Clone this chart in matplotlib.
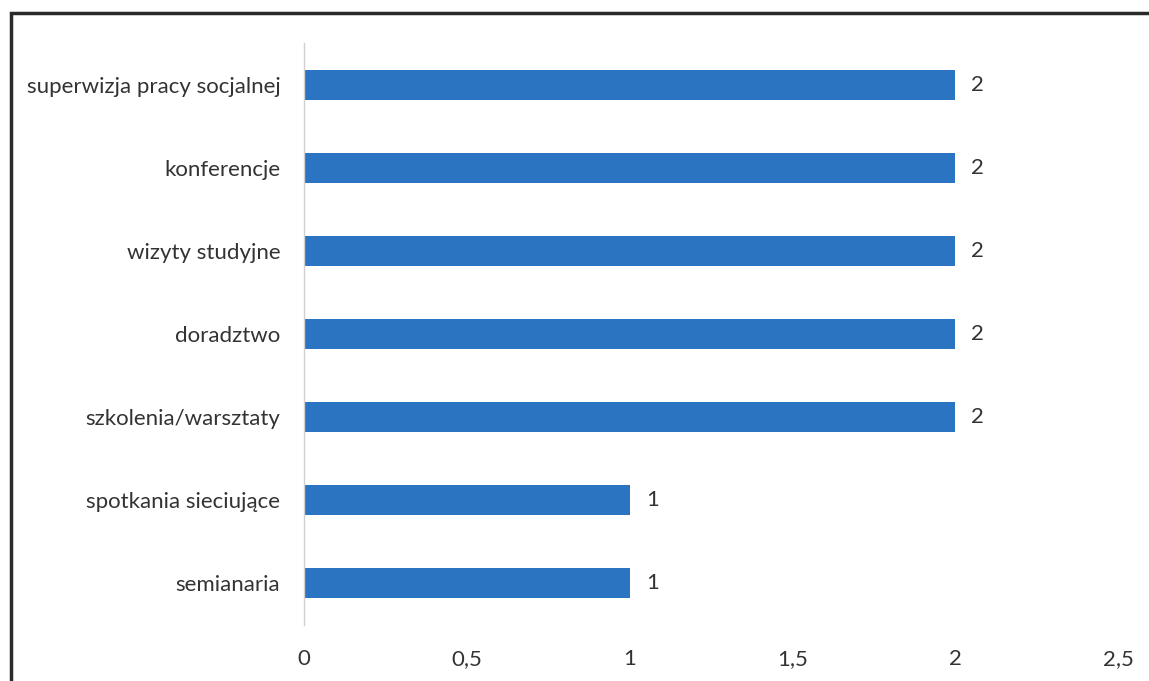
import matplotlib.pyplot as plt
from matplotlib.patches import Rectangle
from matplotlib.ticker import FuncFormatter

categories = ['superwizja pracy socjalnej', 'konferencje', 'wizyty studyjne', 'doradztwo',
              'szkolenia/warsztaty', 'spotkania sieciujące', 'semianaria']
values = [2, 2, 2, 2, 2, 1, 1]
xticks = [0, 0.5, 1, 1.5, 2, 2.5]

plt.rcParams['font.family'] = ['Lato', 'DejaVu Sans']

W, H = 1149, 681
fig = plt.figure(figsize=(W / 100, H / 100), dpi=100)
ax = fig.add_axes([304 / W, 1 - 625 / H, (1118 - 304) / W, (625 - 43) / H])

ypos = list(range(len(categories)))[::-1]
ax.barh(ypos, values, height=0.36, color='#2b74c2')
for y, v in zip(ypos, values):
    ax.text(v + 0.05, y, str(v), va='center', ha='left', fontsize=16, color='#333333')

ax.set_yticks(ypos)
ax.set_yticklabels(categories, fontsize=16, color='#333333')
ax.set_xticks(xticks)
ax.xaxis.set_major_formatter(FuncFormatter(lambda x, _: f'{x:g}'.replace('.', ',')))
ax.tick_params(axis='x', labelsize=16, labelcolor='#333333', length=0, pad=17)
ax.tick_params(axis='y', length=0, pad=17)
ax.set_xlim(0, 2.5)
ax.set_ylim(-0.5, 6.5)
for s in ['top', 'right', 'bottom']:
    ax.spines[s].set_visible(False)
ax.spines['left'].set_color('#d0d0d0')
ax.spines['left'].set_linewidth(1)

# outer frame, cut off at the right and bottom
fig.patches.append(Rectangle((11 / W, -0.05), 1.2, 1 - 13 / H + 0.05, transform=fig.transFigure,
                             fill=False, edgecolor='#2a2a2a', linewidth=2.5))

fig.savefig('out.png', dpi=100)
